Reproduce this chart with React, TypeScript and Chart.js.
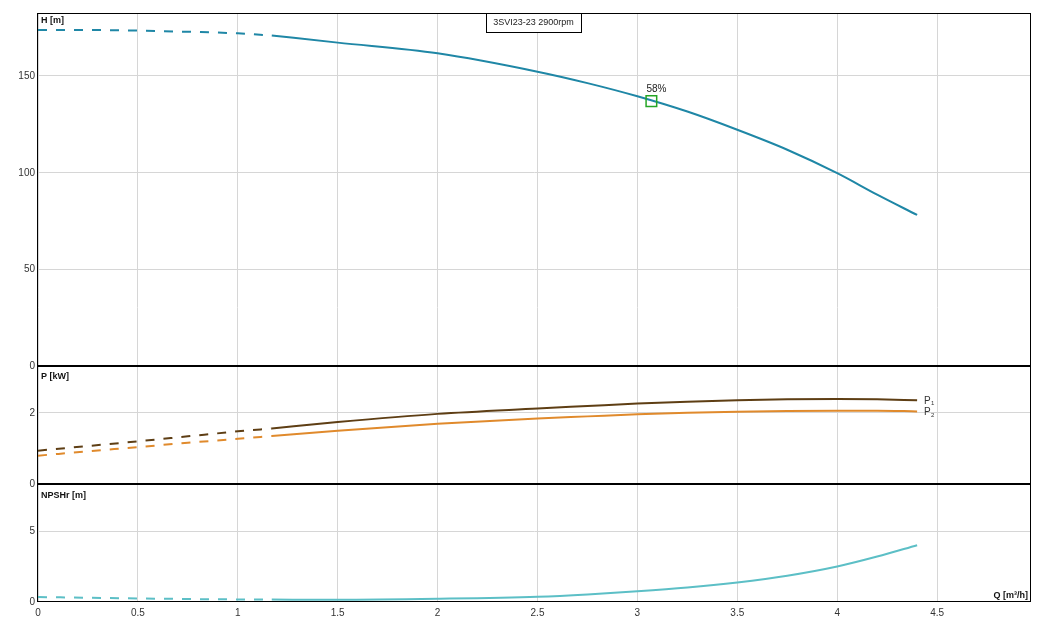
import React, { useEffect, useRef } from 'react';
import { Chart, registerables } from 'chart.js';

Chart.register(...registerables);

// Q [m³/h] — dashed (low flow) and solid range
const qLow = [0, 0.25, 0.5, 0.75, 1, 1.17];
const qHigh = [1.17, 1.5, 2, 2.5, 2.75, 3, 3.25, 3.5, 3.75, 4, 4.2, 4.4];

// H [m]
const hLow = [173.7, 173.7, 173.4, 172.8, 172.0, 170.9];
const hHigh = [170.9, 167.2, 161.7, 152.2, 146.3, 139.5, 131.6, 122.2, 111.9, 99.8, 88.7, 78.2];

// P1 / P2 [kW]
const p1Low = [0.94, 1.07, 1.2, 1.34, 1.48, 1.56];
const p1High = [1.56, 1.74, 1.97, 2.12, 2.19, 2.26, 2.31, 2.35, 2.38, 2.39, 2.38, 2.35];
const p2Low = [0.8, 0.92, 1.04, 1.16, 1.27, 1.35];
const p2High = [1.35, 1.5, 1.69, 1.84, 1.9, 1.96, 2.0, 2.03, 2.05, 2.06, 2.06, 2.04];

// NPSHr [m]
const npshLow = [0.35, 0.3, 0.25, 0.21, 0.18, 0.17];
const npshHigh = [0.17, 0.16, 0.23, 0.37, 0.53, 0.75, 1.02, 1.38, 1.85, 2.5, 3.2, 4.0];

// best efficiency point
const bepQ = 3.07;
const bepH = 137.0;
const bepLabel = '58%';

// ticks
const xTicks = [0, 0.5, 1, 1.5, 2, 2.5, 3, 3.5, 4, 4.5];
const hTicks = [0, 50, 100, 150];
const pTicks = [0, 2];
const npshTicks = [0, 5];

const title = '3SVI23-23 2900rpm';

const FONT = '"Liberation Sans", Arial, sans-serif';
const H_COLOR = '#1f87a6';
const P1_COLOR = '#5e3e14';
const P2_COLOR = '#e08a2c';
const NPSH_COLOR = '#5cbfc6';
const GRID = '#d6d6d6';

const pts = (xs: number[], ys: number[]) => xs.map((x, i) => ({ x, y: ys[i] }));

const curve = (xs: number[], ys: number[], color: string, axis: string, dashed: boolean) => ({
  data: pts(xs, ys),
  yAxisID: axis,
  borderColor: color,
  borderWidth: 2,
  borderDash: dashed ? [9, 9] : [],
  pointRadius: 0,
  cubicInterpolationMode: 'monotone' as const,
  fill: false,
});

const yScale = (max: number, ticks: number[], weight: number) => ({
  type: 'linear' as const,
  position: 'left' as const,
  stack: 'panels',
  stackWeight: weight,
  min: 0,
  max,
  afterBuildTicks: (axis: any) => {
    axis.ticks = ticks.map((v) => ({ value: v }));
  },
  afterFit: (axis: any) => {
    axis.width = 38;
  },
  border: { display: false },
  grid: {
    drawTicks: false,
    color: (c: any) => (c.tick && c.tick.value === 0 ? 'rgba(0,0,0,0)' : GRID),
  },
  ticks: {
    padding: 3,
    color: '#333',
    font: { family: FONT, size: 10 },
    callback: (v: any) => String(v),
  },
});

const App = () => {
  const canvasRef = useRef<HTMLCanvasElement>(null);

  useEffect(() => {
    const ctx = canvasRef.current?.getContext('2d');
    if (!ctx) return;

    // borders, panel titles, labels
    const decor = {
      id: 'decor',
      afterDraw(chart: any) {
        const c = chart.ctx;
        const a = chart.chartArea;
        const sx = chart.scales.x;
        const sH = chart.scales.yH;
        const sP = chart.scales.yP;
        const sN = chart.scales.yN;
        c.save();

        c.strokeStyle = '#000';
        c.lineWidth = 1;
        c.strokeRect(Math.round(a.left) - 0.5, Math.round(a.top) + 0.5, Math.round(a.right - a.left), Math.round(a.bottom - a.top) - 1);
        c.lineWidth = 2;
        [sH.bottom, sP.bottom].forEach((y: number) => {
          c.beginPath();
          c.moveTo(a.left - 1, Math.round(y));
          c.lineTo(a.right, Math.round(y));
          c.stroke();
        });

        c.fillStyle = '#111';
        c.font = `bold 9px ${FONT}`;
        c.textBaseline = 'middle';
        c.textAlign = 'left';
        c.fillText('H [m]', a.left + 3, sH.top + 8);
        c.fillText('P [kW]', a.left + 3, sP.top + 10.5);
        c.fillText('NPSHr [m]', a.left + 3, sN.top + 11);
        c.textAlign = 'right';
        c.fillText('Q [m³/h]', a.right - 3, a.bottom - 6);

        // title box
        c.fillStyle = '#fff';
        c.fillRect(486, a.top, 95, 19);
        c.lineWidth = 1;
        c.strokeRect(486.5, a.top + 0.5, 95, 19);
        c.fillStyle = '#222';
        c.font = `9px ${FONT}`;
        c.textAlign = 'center';
        c.fillText(title, 486 + 47.5, a.top + 10, 82);

        // BEP label
        c.font = `10px ${FONT}`;
        c.textAlign = 'left';
        c.fillStyle = '#222';
        c.fillText(bepLabel, sx.getPixelForValue(bepQ) - 5, sH.getPixelForValue(bepH) - 12);

        // P1 / P2 labels
        const lastQ = qHigh[qHigh.length - 1];
        const lx = sx.getPixelForValue(lastQ) + 7;
        const sub = (txt: string, y: number) => {
          c.font = `10px ${FONT}`;
          c.fillStyle = '#333';
          c.textAlign = 'left';
          c.fillText('P', lx, y);
          c.font = `6px ${FONT}`;
          c.fillText(txt, lx + 7, y + 3);
        };
        sub('1', sP.getPixelForValue(p1High[p1High.length - 1]) + 0.5);
        sub('2', sP.getPixelForValue(p2High[p2High.length - 1]) + 0.5);

        c.restore();
      },
    };

    const chart = new Chart(ctx, {
      type: 'line',
      data: {
        datasets: [
          {
            data: [{ x: bepQ, y: bepH }],
            yAxisID: 'yH',
            showLine: false,
            pointStyle: 'rect',
            pointRadius: 7.5,
            pointBorderWidth: 1.5,
            pointBorderColor: '#25a525',
            pointBackgroundColor: 'rgba(0,0,0,0)',
          } as any,
          curve(qLow, hLow, H_COLOR, 'yH', true),
          curve(qHigh, hHigh, H_COLOR, 'yH', false),
          curve(qLow, p1Low, P1_COLOR, 'yP', true),
          curve(qHigh, p1High, P1_COLOR, 'yP', false),
          curve(qLow, p2Low, P2_COLOR, 'yP', true),
          curve(qHigh, p2High, P2_COLOR, 'yP', false),
          curve(qLow, npshLow, NPSH_COLOR, 'yN', true),
          curve(qHigh, npshHigh, NPSH_COLOR, 'yN', false),
        ],
      },
      options: {
        animation: false,
        responsive: true,
        maintainAspectRatio: false,
        layout: { padding: { top: 13, right: 18, left: 0, bottom: 0 } },
        plugins: { legend: { display: false }, tooltip: { enabled: false } },
        scales: {
          x: {
            type: 'linear',
            min: 0,
            max: 4.97,
            afterBuildTicks: (axis: any) => {
              axis.ticks = xTicks.map((v) => ({ value: v }));
            },
            afterFit: (axis: any) => {
              axis.height = 26;
            },
            border: { display: false },
            grid: { drawTicks: false, color: GRID },
            ticks: {
              padding: 5,
              maxRotation: 0,
              color: '#333',
              font: { family: FONT, size: 10 },
              callback: (v: any) => String(v),
            },
          },
          yN: yScale(8.3, npshTicks, 1),
          yP: yScale(3.3, pTicks, 1),
          yH: yScale(182.5, hTicks, 3),
        } as any,
      },
      plugins: [decor],
    });

    return () => chart.destroy();
  }, []);

  return (
    <div style={{ position: 'absolute', left: 0, top: 0, width: 1049, height: 628, background: '#fff' }}>
      <canvas ref={canvasRef} />
    </div>
  );
};

export default App;
